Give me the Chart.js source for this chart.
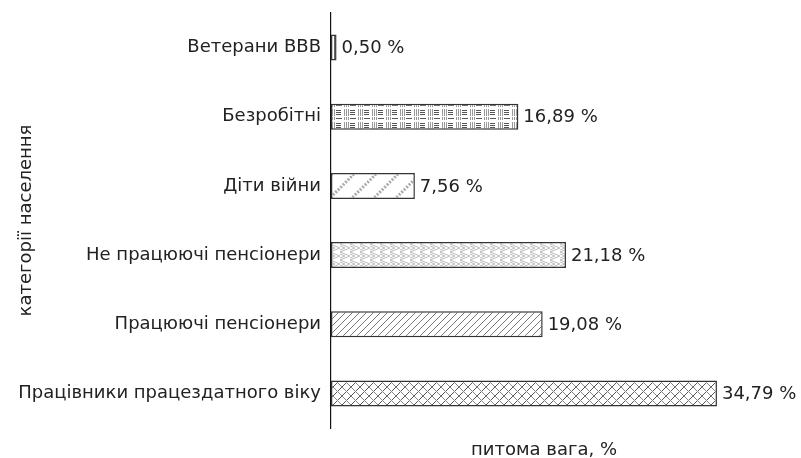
<!DOCTYPE html>
<html>
<head>
<meta charset="utf-8">
<script src="https://cdn.jsdelivr.net/npm/chart.js@4"></script>
<style>
  html, body { margin: 0; padding: 0; background: #fff; }
  #wrap { width: 801px; height: 458px; }
</style>
</head>
<body>
<div id="wrap"><canvas id="c" width="801" height="458"></canvas></div>
<script>
const categories = ['Ветерани ВВВ', 'Безробітні', 'Діти війни', 'Не працюючі пенсіонери', 'Працюючі пенсіонери', 'Працівники працездатного віку'];
const shares = [0.50, 16.89, 7.56, 21.18, 19.08, 34.79];
const xTitle = 'питома вага, %';
const yTitle = 'категорії населення';

const FONT = 'DejaVu Sans, sans-serif';
const FSIZE = 18;

function tile(w, h, draw) {
  const cv = document.createElement('canvas');
  cv.width = w; cv.height = h;
  const g = cv.getContext('2d');
  g.fillStyle = '#fff';
  g.fillRect(0, 0, w, h);
  draw(g);
  return document.getElementById('c').getContext('2d').createPattern(cv, 'repeat');
}

function line(g, x1, y1, x2, y2) {
  g.beginPath(); g.moveTo(x1, y1); g.lineTo(x2, y2); g.stroke();
}

const patterns = [
  // veterans: thin vertical line
  tile(4, 4, g => { g.strokeStyle = '#666'; g.lineWidth = 1; line(g, 2.5, 0, 2.5, 4); }),
  // unemployed: rows of dashes and vertical strokes
  tile(14, 13, g => {
    g.lineWidth = 1;
    g.strokeStyle = '#555';
    line(g, 0, 1.5, 6, 1.5);
    for (const y of [6.5, 8.5, 10.5]) line(g, 0, y, 5, y);
    g.strokeStyle = '#999';
    for (const x of [8.5, 10.5, 12.5]) line(g, x, 0, x, 3);
    for (const x of [8.5, 10.5, 12.5]) line(g, x, 5, x, 12);
  }),
  // children of war: wide dashed diagonal
  tile(22, 22, g => {
    g.strokeStyle = '#aaa'; g.lineWidth = 3; g.setLineDash([2, 1.5]);
    line(g, -2, 24, 24, -2);
    line(g, -24, 24, 2, -2); line(g, 20, 24, 46, -2);
  }),
  // non-working pensioners: herringbone
  tile(10, 8, g => {
    g.strokeStyle = '#bbb'; g.lineWidth = 1;
    g.beginPath(); g.moveTo(10, 0); g.lineTo(0, 4); g.lineTo(10, 8); g.stroke();
    g.beginPath(); g.moveTo(5, 0); g.lineTo(0, 2); g.stroke();
    g.beginPath(); g.moveTo(5, 8); g.lineTo(0, 6); g.stroke();
  }),
  // working pensioners: diagonal hatch
  tile(7, 7, g => {
    g.strokeStyle = '#777'; g.lineWidth = 1;
    line(g, -1, 8, 8, -1); line(g, -8, 8, 1, -1); line(g, 6, 8, 15, -1);
  }),
  // workers: crosshatch
  tile(9, 9, g => {
    g.lineWidth = 1;
    g.strokeStyle = '#555';
    line(g, -1, 10, 10, -1); line(g, -10, 10, 1, -1); line(g, 8, 10, 19, -1);
    g.strokeStyle = '#888';
    line(g, -1, -1, 10, 10); line(g, -10, -1, 1, 10); line(g, 8, -1, 19, 10);
  })
];

const valueLabels = {
  id: 'valueLabels',
  afterDatasetsDraw(chart) {
    const ctx = chart.ctx;
    const meta = chart.getDatasetMeta(0);
    ctx.save();
    ctx.font = FSIZE + 'px ' + FONT;
    ctx.fillStyle = '#222';
    ctx.textAlign = 'left';
    ctx.textBaseline = 'middle';
    meta.data.forEach((bar, i) => {
      const txt = shares[i].toFixed(2).replace('.', ',') + ' %';
      ctx.fillText(txt, bar.x + 5, bar.y + 1);
    });
    ctx.restore();
  }
};

new Chart(document.getElementById('c'), {
  type: 'bar',
  data: {
    labels: categories,
    datasets: [{
      data: shares,
      backgroundColor: patterns,
      borderColor: '#333',
      borderWidth: 1.5,
      borderSkipped: false,
      categoryPercentage: 1,
      barPercentage: 0.375
    }]
  },
  options: {
    indexAxis: 'y',
    responsive: false,
    animation: false,
    layout: { padding: { top: 13, right: 44, left: 0, bottom: 0 } },
    plugins: { legend: { display: false }, tooltip: { enabled: false } },
    scales: {
      x: {
        min: 0, max: 38.4,
        grid: { display: false, drawTicks: false },
        border: { display: false },
        ticks: { display: false },
        title: { display: true, text: xTitle, color: '#222', font: { family: FONT, size: FSIZE }, padding: { top: 0, bottom: -3 } },
        afterFit(s) { s.height = 30; }
      },
      y: {
        grid: { display: false, drawTicks: false },
        border: { display: true, color: '#111', width: 1.2 },
        ticks: { color: '#222', font: { family: FONT, size: FSIZE }, padding: 10 },
        title: { display: true, text: yTitle, color: '#222', font: { family: FONT, size: FSIZE }, padding: { top: 16, bottom: 0 } },
        afterFit(s) { s.width = 331; s.paddingTop = 0; s.paddingBottom = 0; }
      }
    }
  },
  plugins: [valueLabels]
});
</script>
</body>
</html>
